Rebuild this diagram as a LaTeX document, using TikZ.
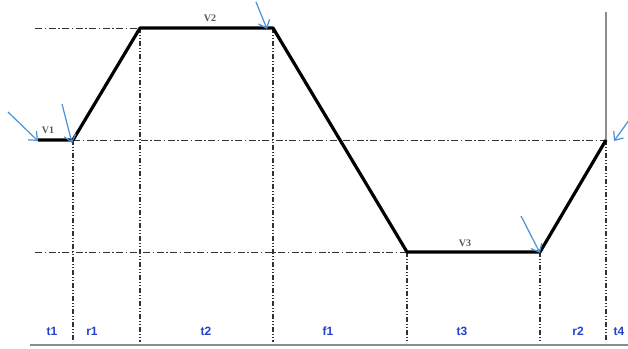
\documentclass[tikz,border=0pt]{standalone}
\usepackage{fontspec}
\setmainfont{Liberation Serif}
\newfontfamily\labelfont{Liberation Sans}
\usetikzlibrary{arrows.meta}
\definecolor{mygrid}{RGB}{50,50,50}
\definecolor{myaxis}{RGB}{140,140,140}
\definecolor{myarrow}{RGB}{75,145,215}
\definecolor{mylabel}{RGB}{35,65,205}
\definecolor{mylevel}{RGB}{85,85,85}

\begin{document}
\begin{tikzpicture}[x=1pt,y=-1pt,
  guide/.style={mygrid, line width=0.9pt, dash pattern=on 7pt off 2.5pt on 1.5pt off 2.5pt},
  vguide/.style={mygrid, line width=1.1pt, dash pattern=on 5pt off 2pt on 1pt off 2pt on 1pt off 2pt},
  profile/.style={black, line width=3.2pt, line join=round},
  marker/.style={myarrow, line width=1.2pt, -{Straight Barb[length=7pt,width=12pt]}},
  phase/.style={mylabel, font=\labelfont\bfseries\fontsize{12}{12}\selectfont},
  level/.style={mylevel, font=\bfseries\fontsize{10}{10}\selectfont}]
  \useasboundingbox (0,0) rectangle (628,348);

  % Profile corners
  \coordinate (p0) at (38,140);
  \coordinate (p1) at (73,140);
  \coordinate (p2) at (140,28);
  \coordinate (p3) at (273,28);
  \coordinate (p4) at (407,252);
  \coordinate (p5) at (540,252);
  \coordinate (p6) at (606,140);

  % Feet on the time axis
  \foreach \i in {1,...,6} {
    \coordinate (q\i) at (p\i |- 0,342);
  }

  % Horizontal guides
  \coordinate (g2) at (35,28);
  \coordinate (g4) at (35,252);
  \draw[guide] (g2) -- (p2);
  \draw[guide] (p1) -- (p6);
  \draw[guide] (g4) -- (p4);

  % Vertical guides
  \foreach \i in {1,...,6} {
    \draw[vguide] (p\i) -- (q\i);
  }

  % Time axis and end marker
  \coordinate (ax0) at (30,345);
  \coordinate (ax1) at (628,345);
  \draw[myaxis, line width=1.8pt] (ax0) -- (ax1);
  \coordinate (top6) at (606,12);
  \draw[myaxis, line width=1.2pt] (top6) -- (p6);

  % Velocity profile
  \draw[profile] (p0) -- (p1) -- (p2) -- (p3) -- (p4) -- (p5) -- (p6);

  % Level labels
  \node[level] (v1) at (48,130) {V1};
  \node[level] (v2) at (210,18) {V2};
  \node[level] (v3) at (465,243) {V3};

  % Phase labels
  \node[phase] (t1) at (52,331) {t1};
  \node[phase] (r1) at (92,331) {r1};
  \node[phase] (t2) at (206,331) {t2};
  \node[phase] (f1) at (328,331) {f1};
  \node[phase] (t3) at (462,331) {t3};
  \node[phase] (r2) at (578,331) {r2};
  \node[phase] (t4) at (619,331) {t4};

  % Switching points
  \coordinate (s0) at (8,112);
  \coordinate (s1) at (62,104);
  \coordinate (s3) at (256,2);
  \coordinate (s5) at (521,216);
  \coordinate (s6) at (632,116);
  \draw[marker] (s0) -- ([yshift=-1pt]p0);
  \draw[marker] (s1) -- ([xshift=-1pt,yshift=-3pt]p1);
  \draw[marker] (s3) -- ([xshift=-6pt,yshift=-1pt]p3);
  \draw[marker] (s5) -- ([yshift=-1pt]p5);
  \draw[marker] (s6) -- ([xshift=8pt,yshift=-1pt]p6);
\end{tikzpicture}
\end{document}
